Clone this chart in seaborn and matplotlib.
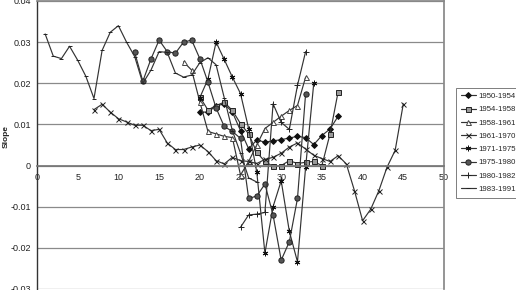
import matplotlib
matplotlib.use("Agg")
import matplotlib.pyplot as plt
import seaborn as sns
import pandas as pd

# ---- data ----
x_1950 = list(range(20, 38))
y_1950 = [0.013, 0.013, 0.0145, 0.015, 0.013, 0.0085, 0.0041, 0.0062, 0.0057, 0.006,
          0.0063, 0.0067, 0.0071, 0.0068, 0.0051, 0.0073, 0.0089, 0.012]

x_1954 = list(range(20, 38))
y_1954 = [0.0167, 0.0135, 0.0146, 0.0154, 0.0134, 0.0102, 0.0077, 0.0032, 0.001, -0.0002,
          0.0, 0.0012, 0.0005, 0.0008, 0.001, 0.0, 0.0077, 0.018]

x_1958 = list(range(18, 34))
y_1958 = [0.0252, 0.0232, 0.0155, 0.0083, 0.0077, 0.0071, 0.0068, -0.0023, 0.001, 0.005,
          0.009, 0.0105, 0.012, 0.0134, 0.0146, 0.0215]

x_1961 = list(range(7, 46))
y_1961 = [0.0136, 0.0149, 0.013, 0.0114, 0.0106, 0.0098, 0.0098, 0.0085, 0.0088, 0.0055,
          0.0039, 0.0039, 0.0045, 0.005, 0.0034, 0.0012, 0.0004, 0.002, 0.0012, 0.001,
          0.0005, 0.0015, 0.002, 0.003, 0.0045, 0.0055, 0.004, 0.0025, 0.0017, 0.001,
          0.0024, 0.0004, -0.0061, -0.0134, -0.0106, -0.0061, -0.0004, 0.0037, 0.015]

x_1971 = list(range(20, 35))
y_1971 = [0.0165, 0.021, 0.030, 0.0258, 0.0215, 0.0175, 0.009, -0.0016, -0.0213, -0.010,
          -0.0037, -0.016, -0.0234, -0.0004, 0.020]

x_1975 = list(range(12, 34))
y_1975 = [0.0275, 0.0205, 0.0259, 0.0305, 0.0277, 0.0273, 0.030, 0.0305, 0.026, 0.0203,
          0.014, 0.0095, 0.0083, 0.0066, -0.008, -0.0074, -0.0045, -0.012, -0.023, -0.0185,
          -0.008, 0.0175]

x_1980 = list(range(25, 34))
y_1980 = [-0.015, -0.012, -0.0118, -0.0114, 0.015, 0.0105, 0.0088, 0.0195, 0.0277]

x_1983 = list(range(1, 28))
y_1983 = [0.032, 0.0266, 0.026, 0.029, 0.0256, 0.0217, 0.0163, 0.028, 0.0324, 0.034,
          0.030, 0.0265, 0.020, 0.0232, 0.0277, 0.0275, 0.0225, 0.0215, 0.022, 0.025,
          0.0262, 0.0245, 0.0165, 0.0085, 0.003, -0.003, -0.004]

series_names = ["1950-1954", "1954-1958", "1958-1961", "1961-1970",
                "1971-1975", "1975-1980", "1980-1982", "1983-1991"]
series_x = [x_1950, x_1954, x_1958, x_1961, x_1971, x_1975, x_1980, x_1983]
series_y = [y_1950, y_1954, y_1958, y_1961, y_1971, y_1975, y_1980, y_1983]

y_ticks = [-0.03, -0.02, -0.01, 0, 0.01, 0.02, 0.03, 0.04]
y_tick_labels = ["-0.03", "-0.02", "-0.01", "0", "0.01", "0.02", "0.03", "0.04"]
x_ticks = [0, 5, 10, 15, 20, 25, 30, 35, 40, 45, 50]
y_axis_label = "Slope"

# ---- styles ----
styles = {
    "1950-1954": dict(marker="D", ms=3.0, mfc="#111111", mec="#111111"),
    "1954-1958": dict(marker="s", ms=3.6, mfc="#9a9a9a", mec="#222222"),
    "1958-1961": dict(marker="^", ms=3.6, mfc="white", mec="#444444"),
    "1961-1970": dict(marker="x", ms=3.6, mfc="none", mec="#222222"),
    "1971-1975": dict(marker=(6, 2, 0), ms=4.0, mfc="#111111", mec="#111111"),
    "1975-1980": dict(marker="o", ms=3.8, mfc="#555555", mec="#222222"),
    "1980-1982": dict(marker="+", ms=4.0, mfc="none", mec="#222222"),
    "1983-1991": dict(marker="_", ms=3.5, mfc="none", mec="#222222"),
}

sns.set_theme(style="white")
plt.rcParams["font.family"] = ["Liberation Sans", "DejaVu Sans"]

fig = plt.figure(figsize=(5.16, 2.90), dpi=100)
ax = fig.add_axes([37 / 516, 1 - 289 / 290, (444 - 37) / 516, 288 / 290])

for name, xs, ys in zip(series_names, series_x, series_y):
    df = pd.DataFrame({"x": xs, "y": ys})
    st = styles[name]
    sns.lineplot(data=df, x="x", y="y", ax=ax, color="#333333", linewidth=0.85,
                 marker=st["marker"], markersize=st["ms"],
                 markerfacecolor=st["mfc"], markeredgecolor=st["mec"],
                 markeredgewidth=0.7, label=name, sort=False)

ax.set_xlim(0, 50)
ax.set_ylim(-0.03, 0.04)
ax.set_yticks(y_ticks)
ax.set_yticklabels(y_tick_labels)
ax.set_xticks(x_ticks)
ax.set_xticklabels([str(t) for t in x_ticks])
ax.set_xlabel("")
ax.set_ylabel(y_axis_label, fontsize=6, fontweight="bold", color="#222222")
ax.yaxis.set_label_coords(-0.068, 0.53)

for yv in y_ticks:
    ax.axhline(yv, color="#8a8a8a", lw=0.9, zorder=0)

ax.spines["bottom"].set_position(("data", 0))
ax.spines["bottom"].set_color("#777777")
ax.spines["left"].set_color("#333333")
ax.spines["left"].set_linewidth(1.0)
ax.spines["top"].set_color("#888888")
ax.spines["right"].set_color("#888888")
ax.tick_params(axis="both", labelsize=6.5, colors="#222222", length=2.5, width=0.6,
               direction="out", pad=2)
ax.tick_params(axis="x", pad=3)

leg = ax.legend(loc="upper left", bbox_to_anchor=(456 / 516, 1 - 88 / 290),
                bbox_transform=fig.transFigure, fontsize=5.6, frameon=True,
                fancybox=False, edgecolor="#444444", borderpad=0.6,
                labelspacing=0.75, handlelength=2.0, handletextpad=0.3,
                borderaxespad=0)
leg.get_frame().set_linewidth(0.6)

fig.savefig("out.png", dpi=100)
